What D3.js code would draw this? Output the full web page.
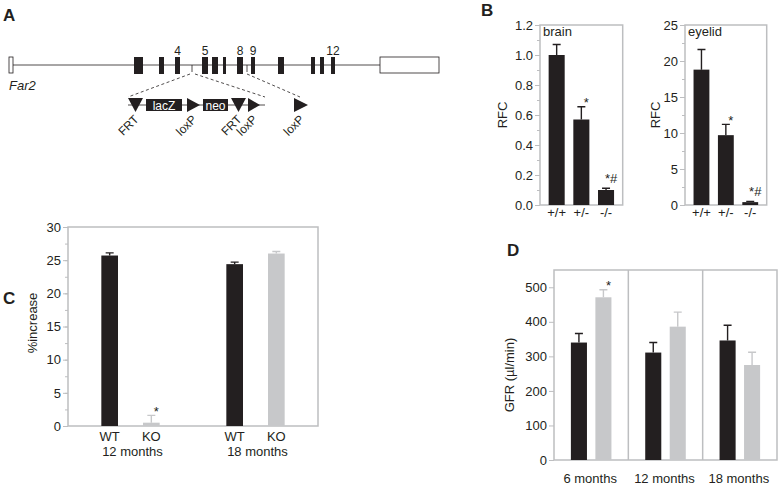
<!DOCTYPE html>
<html>
<head>
<meta charset="utf-8">
<script src="https://cdn.jsdelivr.net/npm/d3@7"></script>
<style>
  body { margin: 0; background: #fff; }
  text { font-family: "Liberation Sans", Arial, sans-serif; fill: #231f20; }
</style>
</head>
<body>
<svg width="778" height="486"></svg>
<script>
// ---- data ----
// panel A: gene model, positions in arbitrary genomic units
const utrs = [[0, 0.4], [37.1, 43.0]];
const exons = [[12.5, 13.4], [15.0, 15.5], [16.6, 17.1], [19.3, 19.9], [20.3, 20.9], [21.4, 21.7],
               [22.8, 23.4], [24.2, 24.6], [26.9, 27.5], [30.2, 30.6], [31.1, 31.5], [32.2, 32.6]];
const exonNames = ["", "", "4", "5", "", "", "8", "9", "", "", "", "12"];
const insertSites = [18.3, 23.8];
// targeting cassette, in cassette units
const cassetteSpan = [0, 13.7];
const cassetteParts = [
  { type: "frt", s: 0, e: 1.5, name: "FRT" },
  { type: "box", s: 1.8, e: 5.4, name: "lacZ" },
  { type: "loxp", s: 5.9, e: 7.2, name: "loxP" },
  { type: "box", s: 7.5, e: 10.0, name: "neo" },
  { type: "frt", s: 10.3, e: 11.8, name: "FRT" },
  { type: "loxp", s: 12.0, e: 13.2, name: "loxP" },
  { type: "loxp", s: 16.6, e: 18.0, name: "loxP" }
];

// panel B
const genotypes = ["+/+", "+/-", "-/-"];
const brainRFC = [1.0, 0.57, 0.10];
const brainErr = [0.07, 0.085, 0.012];
const eyelidRFC = [18.8, 9.7, 0.4];
const eyelidErr = [2.8, 1.5, 0.1];
const rfcMarks = ["", "*", "*#"];

// panel C
const cAges = ["12 months", "18 months"];
const groups = ["WT", "KO"];
const increase = [[25.7, 0.5], [24.4, 26.0]];
const increaseErr = [[0.4, 1.1], [0.3, 0.3]];
const increaseMarks = [["", "*"], ["", ""]];

// panel D
const dAges = ["6 months", "12 months", "18 months"];
const gfrWT = [340, 311, 346];
const gfrKO = [471, 386, 275];
const gfrWTErr = [26, 29, 44];
const gfrKOErr = [22, 42, 37];
const gfrMarks = [["", "*"], ["", ""], ["", ""]];

// ---- styles ----
const ink = "#231f20", grey = "#c7c8ca", frameCol = "#bdbec0";
const colorOf = g => g === "WT" ? ink : grey;

const svg = d3.select("svg");

// panel letters
[["A", 3, 21], ["B", 481, 16], ["C", 3, 304], ["D", 507, 256]].forEach(([t, x, y]) =>
  svg.append("text").attr("x", x).attr("y", y).attr("font-size", 17)
    .attr("font-weight", "bold").text(t));

// ---------- Panel A ----------
const gx = d3.scaleLinear().domain([0, 43]).range([9, 439]);
const cx = d3.scaleLinear().domain([0, 18]).range([128, 308]);
const geneY = 65, cassY = 105;
const A = svg.append("g");

A.append("line").attr("x1", gx(0)).attr("x2", gx(43)).attr("y1", geneY).attr("y2", geneY)
  .attr("stroke", ink).attr("stroke-width", 0.8);
A.selectAll(".utr").data(utrs).enter().append("rect")
  .attr("x", d => gx(d[0])).attr("width", d => gx(d[1]) - gx(d[0]))
  .attr("y", geneY - 8).attr("height", 16)
  .attr("fill", "#fff").attr("stroke", ink).attr("stroke-width", 0.8);
A.selectAll(".exon").data(exons).enter().append("rect")
  .attr("x", d => gx(d[0])).attr("width", d => gx(d[1]) - gx(d[0]))
  .attr("y", geneY - 8).attr("height", 17).attr("fill", ink);
A.selectAll(".exname").data(exons).enter().append("text")
  .attr("x", d => gx((d[0] + d[1]) / 2)).attr("y", geneY - 10)
  .attr("text-anchor", "middle").attr("font-size", 12)
  .text((d, i) => exonNames[i]);
A.append("text").attr("x", gx(0)).attr("y", 90).attr("font-size", 13)
  .attr("font-style", "italic").text("Far2");

// insertion sites and dashed guides
A.selectAll(".site").data(insertSites).enter().append("line")
  .attr("x1", d => gx(d)).attr("x2", d => gx(d))
  .attr("y1", geneY).attr("y2", geneY + 7).attr("stroke", ink).attr("stroke-width", 0.8);
const guides = [[insertSites[0] - 0.2, cassetteSpan[0]], [insertSites[0] + 0.3, cassetteSpan[1]], [insertSites[1], 17.2]];
A.selectAll(".guide").data(guides).enter().append("line")
  .attr("x1", d => gx(d[0])).attr("y1", geneY + 9)
  .attr("x2", d => cx(d[1])).attr("y2", cassY - 8)
  .attr("stroke", ink).attr("stroke-width", 0.8).attr("stroke-dasharray", "3,2.5");

// cassette
A.append("line").attr("x1", cx(cassetteSpan[0])).attr("x2", cx(cassetteSpan[1]))
  .attr("y1", cassY).attr("y2", cassY).attr("stroke", ink).attr("stroke-width", 0.8);
cassetteParts.forEach(p => {
  const x0 = cx(p.s), x1 = cx(p.e), m = (x0 + x1) / 2;
  if (p.type === "box") {
    A.append("rect").attr("x", x0).attr("width", x1 - x0).attr("y", cassY - 6).attr("height", 12).attr("fill", ink);
    A.append("text").attr("x", m).attr("y", cassY + 4.5).attr("text-anchor", "middle")
      .attr("font-size", 12).style("fill", "#fff").text(p.name);
  } else {
    const pts = p.type === "frt"
      ? [[x0, cassY - 7], [x1, cassY - 7], [m, cassY + 7]]
      : [[x0, cassY - 7], [x1, cassY], [x0, cassY + 7]];
    A.append("path").attr("d", d3.line()(pts) + "Z").attr("fill", ink);
    A.append("text").attr("transform", `translate(${m + 4},${cassY + 15}) rotate(-45)`)
      .attr("text-anchor", "end").attr("font-size", 12).text(p.name);
  }
});

// ---------- helpers ----------
function yAxis(g, y, x0, major, minor, fmt) {
  g.append("g").attr("transform", `translate(${x0},0)`)
    .call(d3.axisLeft(y).tickValues(minor).tickSize(3).tickFormat(""))
    .call(a => a.select(".domain").remove())
    .call(a => a.selectAll("line").attr("stroke", frameCol));
  g.append("g").attr("transform", `translate(${x0},0)`)
    .call(d3.axisLeft(y).tickValues(major).tickSize(5).tickPadding(2).tickFormat(fmt))
    .call(a => a.select(".domain").remove())
    .call(a => a.selectAll("line").attr("stroke", frameCol))
    .call(a => a.selectAll("text").attr("font-size", 13).attr("font-family", null).attr("fill", ink));
}
function frame(g, x0, x1, y0, y1) {
  g.append("rect").attr("x", x0).attr("y", y0).attr("width", x1 - x0).attr("height", y1 - y0)
    .attr("fill", "none").attr("stroke", frameCol).attr("stroke-width", 1.5);
}
function bars(g, rows, y) {
  // rows: {x, w, v, e, c, mark}
  g.selectAll(null).data(rows).enter().append("rect")
    .attr("x", d => d.x).attr("width", d => d.w)
    .attr("y", d => y(d.v)).attr("height", d => y(0) - y(d.v)).attr("fill", d => d.c);
  g.selectAll(null).data(rows).enter().append("path")
    .attr("d", d => {
      const m = d.x + d.w / 2, t = y(d.v + d.e);
      return `M${m},${y(d.v)}V${t}M${m - 4},${t}H${m + 4}`;
    })
    .attr("stroke", d => d.c).attr("stroke-width", 1.4).attr("fill", "none");
  g.selectAll(null).data(rows.filter(d => d.mark)).enter().append("text")
    .attr("x", d => d.x + d.w / 2 + 5).attr("text-anchor", "middle")
    .attr("y", d => y(d.v + d.e) + (d.mark === "*" ? 0.5 : -5.5))
    .attr("font-size", 13).text(d => d.mark);
}
function yTitle(g, t, x, y) {
  g.append("text").attr("transform", `translate(${x},${y}) rotate(-90)`)
    .attr("text-anchor", "middle").attr("font-size", 13).text(t);
}

// ---------- Panel B ----------
function rfcPanel(x0, x1, vals, errs, maxV, major, minor, fmt, label, titleX) {
  const g = svg.append("g");
  const y = d3.scaleLinear().domain([0, maxV]).range([205, 25]);
  const x = d3.scaleBand().domain(genotypes).range([x0, x1]).paddingInner(0.35).paddingOuter(0.35);
  frame(g, x0, x1, 25, 205);
  yAxis(g, y, x0, major, minor, fmt);
  bars(g, genotypes.map((k, i) => ({ x: x(k), w: x.bandwidth(), v: vals[i], e: errs[i], c: ink, mark: rfcMarks[i] })), y);
  g.append("g").attr("transform", "translate(0,205)")
    .call(d3.axisBottom(x).tickSize(0).tickPadding(3))
    .call(a => a.select(".domain").remove())
    .call(a => a.selectAll("text").attr("font-size", 13).attr("font-family", null).attr("fill", ink));
  g.append("text").attr("x", x0 + 3).attr("y", 36).attr("font-size", 13).text(label);
  yTitle(g, "RFC", titleX, 115);
}
rfcPanel(540, 622.7, brainRFC, brainErr, 1.2, d3.range(0, 1.21, 0.2), d3.range(0, 1.21, 0.1), d3.format(".1f"), "brain", 507);
rfcPanel(685, 766.7, eyelidRFC, eyelidErr, 25, d3.range(0, 26, 5), d3.range(0, 26, 2.5), d3.format("d"), "eyelid", 660);

// ---------- Panel C ----------
{
  const g = svg.append("g");
  const x0 = 68, x1 = 318, yb = 426, yt = 227;
  const y = d3.scaleLinear().domain([0, 30]).range([yb, yt]);
  const xo = d3.scaleBand().domain(cAges).range([x0, x1]);
  const xi = d3.scaleBand().domain(groups).range([0, xo.bandwidth()]).paddingInner(0.6).paddingOuter(0.8);
  frame(g, x0, x1, yt, yb);
  yAxis(g, y, x0, d3.range(0, 31, 5), d3.range(0, 31, 2.5), d3.format("d"));
  const rows = [];
  cAges.forEach((a, i) => groups.forEach((gr, j) => rows.push({
    x: xo(a) + xi(gr), w: xi.bandwidth(), v: increase[i][j], e: increaseErr[i][j], c: colorOf(gr), mark: increaseMarks[i][j]
  })));
  bars(g, rows, y);
  g.selectAll(null).data(rows).enter().append("text")
    .attr("x", (d, k) => d.x + d.w / 2).attr("y", yb + 15).attr("text-anchor", "middle")
    .attr("font-size", 13).text((d, k) => groups[k % 2]);
  g.selectAll(null).data(cAges).enter().append("text")
    .attr("x", d => xo(d) + xo.bandwidth() / 2 + 2).attr("y", yb + 29.5).attr("text-anchor", "middle")
    .attr("font-size", 13).text(d => d);
  yTitle(g, "%increase", 37, 323);
}

// ---------- Panel D ----------
{
  const g = svg.append("g");
  const x0 = 554, x1 = 777, yb = 460, yt = 270;
  const y = d3.scaleLinear().domain([0, 550]).range([yb, yt]);
  const xo = d3.scaleBand().domain(dAges).range([x0, x1]);
  const xi = d3.scaleBand().domain(groups).range([0, xo.bandwidth()]).paddingInner(0.344).paddingOuter(0.69);
  frame(g, x0, x1, yt, yb);
  g.selectAll(null).data(dAges.slice(1)).enter().append("line")
    .attr("x1", d => xo(d)).attr("x2", d => xo(d)).attr("y1", yt).attr("y2", yb)
    .attr("stroke", frameCol).attr("stroke-width", 1.5);
  yAxis(g, y, x0, d3.range(0, 501, 100), [], d3.format("d"));
  const rows = [];
  dAges.forEach((a, i) => {
    rows.push({ x: xo(a) + xi("WT"), w: xi.bandwidth(), v: gfrWT[i], e: gfrWTErr[i], c: ink, mark: gfrMarks[i][0] });
    rows.push({ x: xo(a) + xi("KO"), w: xi.bandwidth(), v: gfrKO[i], e: gfrKOErr[i], c: grey, mark: gfrMarks[i][1] });
  });
  bars(g, rows, y);
  g.selectAll(null).data(dAges).enter().append("text")
    .attr("x", d => xo(d) + xo.bandwidth() / 2 - 1).attr("y", yb + 23).attr("text-anchor", "middle")
    .attr("font-size", 13).text(d => d);
  yTitle(g, "GFR (\u00b5l/min)", 514, 375);
}
</script>
</body>
</html>
